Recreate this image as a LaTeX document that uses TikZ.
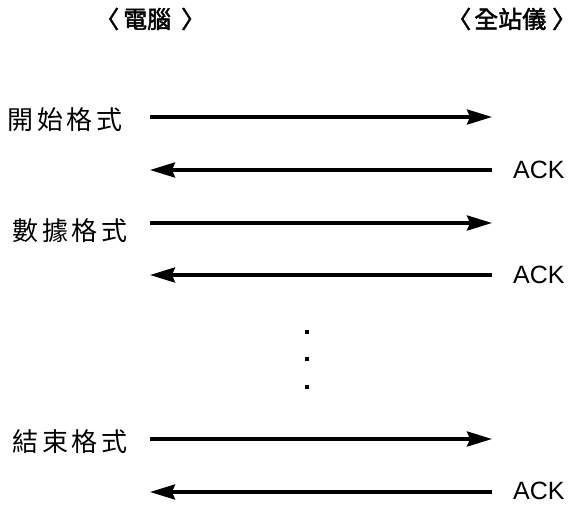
\documentclass[tikz,border=0pt]{standalone}
\usepackage{fontspec}
\setsansfont{Liberation Sans}
\newfontfamily\cjk{Noto Sans CJK TC}[LetterSpace=15]
\newfontfamily\cjkb{Noto Sans CJK TC}[FakeBold=2]
\usetikzlibrary{arrows.meta}
\begin{document}
\begin{tikzpicture}[x=1pt,y=1pt,
  msg/.style={line width=3.2pt,-{Stealth[length=25pt,width=15pt,inset=3pt]}},
  lbl/.style={anchor=west,inner sep=0pt,font=\cjk\fontsize{26}{28}\selectfont},
  ack/.style={anchor=west,inner sep=0pt,font=\sffamily\fontsize{25}{27}\selectfont},
  hdr/.style={inner sep=0pt,font=\cjkb\fontsize{24}{26}\selectfont},
  dot/.style={fill=black,inner sep=0pt,minimum size=3.5pt,shape=rectangle}]
\useasboundingbox (0,0) rectangle (581,504);
% headers
\node[hdr,anchor=west] (pc) at (95,485) {〈\hspace{4pt}電腦\hspace{10pt}〉};
\node[hdr,anchor=west] (ts) at (447,485) {〈\hspace{3pt}全站儀\hspace{6pt}〉};
% labels
\node[lbl] (s) at (7,384) {開始格式};
\node[lbl] (d) at (12,273) {數據格式};
\node[lbl] (e) at (12,62) {結束格式};
% connector end points
\coordinate (a1) at (150,387); \coordinate (b1) at (492,387);
\coordinate (a2) at (150,334); \coordinate (b2) at (492,334);
\coordinate (a3) at (150,281); \coordinate (b3) at (492,281);
\coordinate (a4) at (150,229); \coordinate (b4) at (492,229);
\coordinate (a5) at (150,65);  \coordinate (b5) at (492,65);
\coordinate (a6) at (150,12);  \coordinate (b6) at (492,12);
\draw[msg] (a1) -- (b1);
\draw[msg] (b2) -- (a2);
\draw[msg] (a3) -- (b3);
\draw[msg] (b4) -- (a4);
\draw[msg] (a5) -- (b5);
\draw[msg] (b6) -- (a6);
% ACK labels
\node[ack] (k1) at (513,334) {ACK};
\node[ack] (k2) at (513,229) {ACK};
\node[ack] (k3) at (513,13) {ACK};
% ellipsis dots
\node[dot] (p1) at (307,172) {};
\node[dot] (p2) at (307,145) {};
\node[dot] (p3) at (307,117) {};
\end{tikzpicture}
\end{document}
